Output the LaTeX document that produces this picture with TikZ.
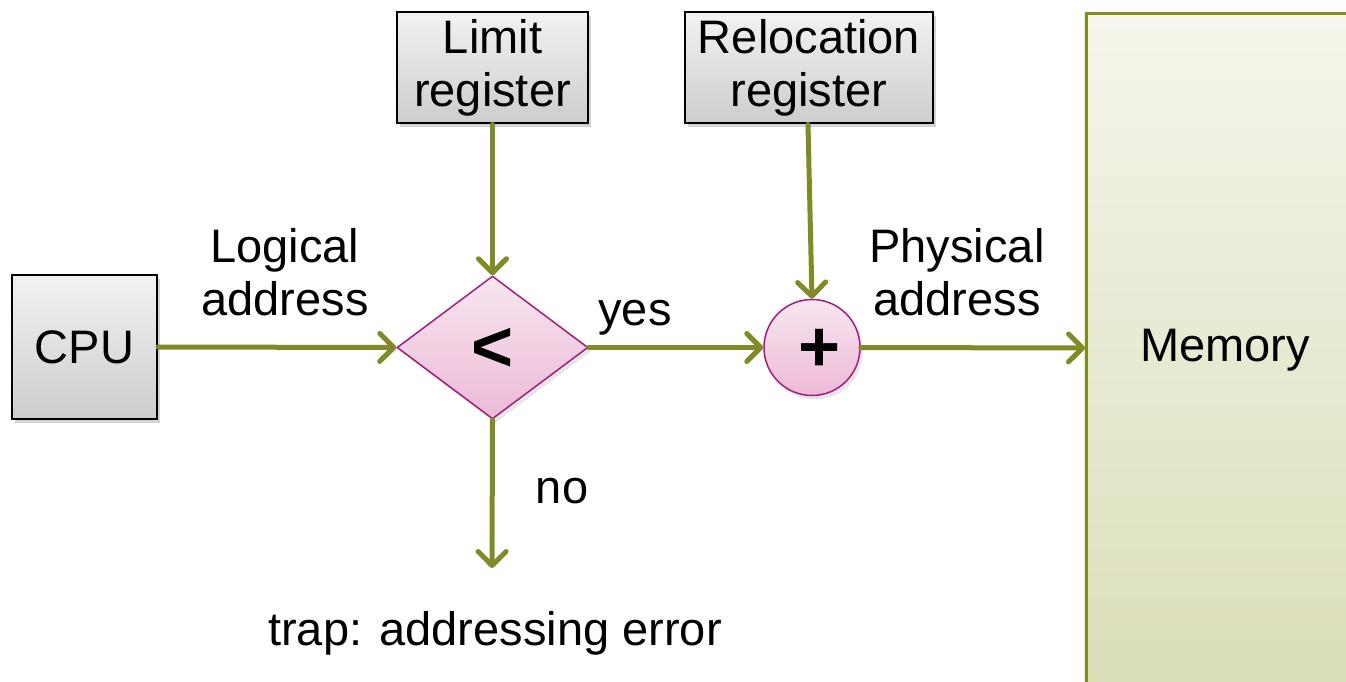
\documentclass[tikz,border=0pt]{standalone}
\usepackage{fontspec}
\setmainfont{Liberation Sans}
\usetikzlibrary{arrows.meta,shapes.geometric,shadows}
\definecolor{olivearrow}{RGB}{128,138,38}
\definecolor{pinkedge}{RGB}{160,30,125}
\definecolor{pinktop}{RGB}{248,230,240}
\definecolor{pinkbot}{RGB}{236,186,214}
\definecolor{graytop}{RGB}{242,242,242}
\definecolor{graybot}{RGB}{205,205,205}
\definecolor{memtop}{RGB}{245,245,236}
\definecolor{membot}{RGB}{218,221,183}
\definecolor{memedge}{RGB}{130,140,30}
\tikzset{
  txt/.style={font=\fontsize{47}{53}\selectfont, align=center, inner sep=0pt},
  graybox/.style={draw=black, line width=2pt, top color=graytop, bottom color=graybot,
    inner sep=0pt, drop shadow={shadow xshift=3pt, shadow yshift=-4pt, opacity=0.35},
    font=\fontsize{47}{53}\selectfont, align=center},
  pinkshape/.style={draw=pinkedge, line width=1.5pt, top color=pinktop, bottom color=pinkbot,
    inner sep=0pt, drop shadow={shadow xshift=3pt, shadow yshift=-4pt, opacity=0.2}},
  symb/.style={font=\fontsize{72}{72}\bfseries\selectfont, inner sep=0pt},
  conn/.style={draw=olivearrow, line width=5pt, line cap=round,
    -{Straight Barb[length=14pt, width=28pt, line width=5pt, line cap=round, line join=round]}},
}
\begin{document}
\begin{tikzpicture}[x=1pt,y=-1pt]
\useasboundingbox (0,0) rectangle (1346,682);
\clip (0,0) rectangle (1346,682);
% memory
\node[draw=memedge, line width=3pt, top color=memtop, bottom color=membot,
  minimum width=281pt, minimum height=700pt, inner sep=0pt,
  drop shadow={shadow xshift=-3pt, shadow yshift=0pt, opacity=0.2},
  anchor=north west] (memory) at (1085,12) {};
\node[txt] (memtext) at (1225,350) {Memory};
\coordinate (memin) at (1085,348);
% boxes
\node[graybox, minimum width=145pt, minimum height=144pt] (cpu) at (84.5,347) {CPU};
\node[graybox, minimum width=191pt, minimum height=111pt] (limit) at (492.5,68) {Limit\\register};
\node[graybox, minimum width=248pt, minimum height=111pt] (reloc) at (809,68) {Relocation\\register};
\node[pinkshape, diamond, minimum width=191pt, minimum height=143pt, aspect=1.336] (cmp) at (492.5,347.5) {};
\node[symb] (lt) at (493,350) {<};
\node[pinkshape, circle, minimum size=96pt] (add) at (812,347.5) {};
\node[symb] (plus) at (820,350) {+};
% labels
\node[txt] (logical) at (285,272) {Logical\\address};
\node[txt, anchor=base] (yes) at (635,325) {yes};
\node[txt] (physical) at (957,272) {Physical\\address};
\node[txt, anchor=base] (no) at (562,503) {no};
\node[txt, anchor=base] (trap) at (495,645) {trap: addressing error};
\coordinate (trapend) at (492,568);
% connectors
\draw[conn] (cpu.east) -- (cmp.west);
\draw[conn] (limit.south) -- (cmp.north);
\draw[conn] (cmp.east) -- (add.west);
\draw[conn] ([xshift=-1pt]reloc.south) -- (add.north);
\draw[conn] (add.east) -- (memin);
\draw[conn] (cmp.south) -- (trapend);
\end{tikzpicture}
\end{document}
